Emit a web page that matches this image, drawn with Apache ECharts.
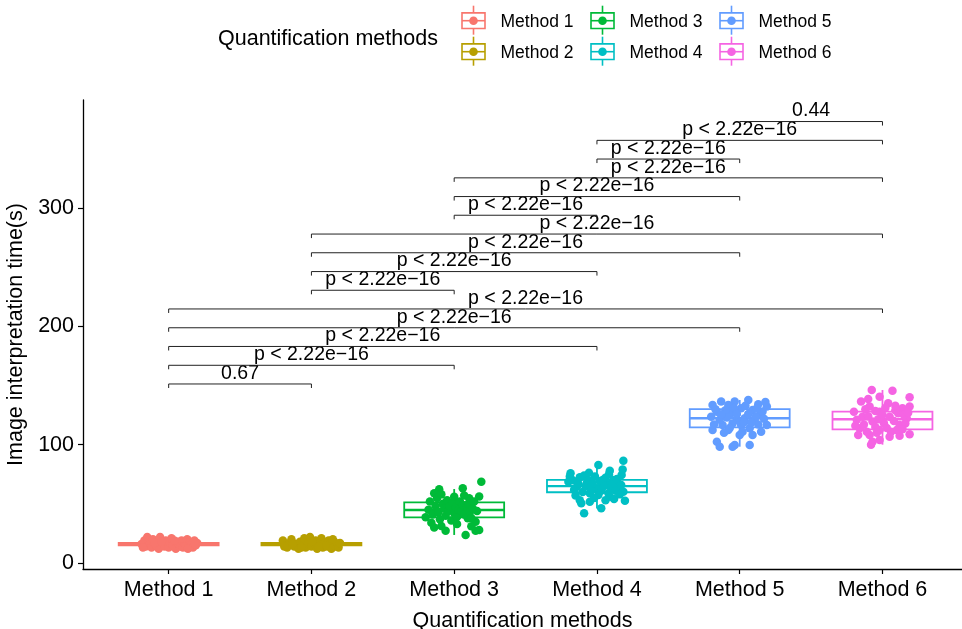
<!DOCTYPE html>
<html><head><meta charset="utf-8">
<script src="https://cdn.jsdelivr.net/npm/echarts@6/dist/echarts.min.js"></script>
<style>html,body{margin:0;padding:0;background:#fff}#c{width:962px;height:629px}</style>
</head><body><div id="c"></div>
<script>
// ---------- data ----------
const categories = ['Method 1','Method 2','Method 3','Method 4','Method 5','Method 6'];
const yTicks = [0, 100, 200, 300];
const xTicks = [1, 2, 3, 4, 5, 6];

// box statistics per method: [lower whisker, Q1, median, Q3, upper whisker]
const boxMethod1 = [12, 15, 16, 17, 22];
const boxMethod2 = [12, 15, 16, 17, 22];
const boxMethod3 = [23.7, 38.6, 44.8, 51.3, 62.5];
const boxMethod4 = [46, 59.8, 65, 70.2, 83];
const boxMethod5 = [98.3, 114.7, 122.3, 130, 137.8];
const boxMethod6 = [100, 113, 121.5, 127.9, 146.2];

// observed values (s) and horizontal jitter (category units)
const method1Values = [16,19,14,22,17,13,20,15,18,12,22,16,14,19,13,17,21,15,12,18,16,14,19,13,17,15,20,14,18,16,13,19,15,17,13,17,19,18,12,16];
const method1Jitter = [-0.19,-0.17,-0.16,-0.15,-0.13,-0.12,-0.11,-0.09,-0.08,-0.07,-0.06,-0.04,-0.03,-0.02,0.0,0.01,0.02,0.03,0.05,0.06,0.07,0.08,0.09,0.1,0.11,0.12,0.13,0.14,0.15,0.16,0.17,0.18,0.19,0.2,-0.18,-0.1,0.04,-0.05,0.135,0.185];
const method2Values = [19,15,13,17,20,14,16,12,18,15,21,13,17,22,14,16,19,12,15,21,13,17,14,19,16,12,18,14,16,13,17,16,13,18,15,20,14,14];
const method2Jitter = [-0.2,-0.18,-0.17,-0.15,-0.14,-0.12,-0.11,-0.09,-0.08,-0.06,-0.05,-0.04,-0.02,-0.01,0.0,0.02,0.03,0.04,0.06,0.07,0.08,0.09,0.11,0.12,0.13,0.14,0.16,0.17,0.18,0.19,0.2,-0.13,-0.07,0.01,0.1,0.15,-0.19,0.05];
const method3Values = [68.7,63.1,62.3,58.9,56.3,54.7,38.6,34,31.3,27.3,23.7,27.3,27.9,34.9,37.8,45,52,41,48,55,43,37,50,46,40,53,44,48,36,51,42,47,39,45,52,44,49,41,47,50,43,38,46,52,44,33,30,31,58,56,57];
const method3Jitter = [0.19,0.06,-0.105,-0.14,0.175,0.105,-0.2,-0.16,-0.09,-0.06,0.08,0.15,0.175,0.15,0.095,-0.18,-0.17,-0.15,-0.13,-0.12,-0.11,-0.1,-0.08,-0.07,-0.06,-0.05,-0.04,-0.03,-0.02,-0.01,0.0,0.01,0.02,0.03,0.04,0.05,0.06,0.07,0.09,0.1,0.11,0.12,0.13,0.14,0.16,0.02,-0.14,0.12,-0.09,0.0,0.07];
const method4Values = [86.5,82.8,75.8,76.3,75,74.4,72.4,73,70.2,68.7,67.9,66.8,64.5,63.1,64.5,60.3,58.9,56.1,52.7,50.5,51.8,46.2,42,57.5,70.2,70,62,67,60,74,65,70,62,67,55,69,61,65,72,59,63,67,54,61,71,58,66,57,53,53,79,73,78];
const method4Jitter = [0.185,0.01,-0.185,-0.056,0.084,0.173,-0.12,-0.014,0.114,-0.2,-0.07,0.07,-0.14,0.0,0.15,0.185,-0.05,0.09,0.196,-0.11,-0.05,0.03,-0.09,0.01,0.04,-0.17,-0.16,-0.13,-0.1,-0.09,-0.08,-0.06,-0.04,-0.03,-0.02,0.02,0.03,0.05,0.06,0.08,0.1,0.11,0.12,0.13,0.14,0.16,0.17,-0.15,0.06,-0.12,0.18,-0.19,0.09];
const method5Values = [137.8,136.4,136.4,133.6,133.6,134.2,132.2,130.8,129.3,127.9,126.5,125.1,123.7,122.3,120.9,120.9,116.7,116.7,116.7,112.4,112.4,113.9,108.2,108.2,102.5,99.7,99.7,98.3,98.3,130,129,131,133,128,130.5,121,123,126,122,118,117,117,119,110,111,123.5,126,136,114,118.5,125.5,111];
const method5Jitter = [0.06,-0.13,-0.035,-0.19,-0.08,0.13,0.19,0.01,0.09,-0.16,-0.06,0.14,-0.2,0.035,-0.02,0.105,0.19,-0.12,0.01,-0.19,-0.08,0.07,0,0.09,-0.16,-0.035,0.07,-0.14,-0.05,-0.17,-0.1,-0.04,0.04,0.16,0.12,-0.14,-0.09,0.06,0.17,-0.05,0.13,-0.18,0.03,-0.11,0.15,0.11,-0.02,0.18,-0.07,0.08,-0.13,0.02];
const method6Values = [146.2,145.6,140.6,140.1,138.6,136.4,135,132.2,132.2,130.8,127.9,127.9,126.5,123.7,123.7,122.3,119.5,118.1,116.7,113.9,112.4,111,108.8,108.2,107.6,108.2,102.5,104,106.8,130,128.5,131,129,125,121,124,121.5,120,118,117,115,114,112.5,111,113,116,127,125,110,133,100];
const method6Jitter = [-0.075,0.07,-0.02,0.19,-0.1,-0.15,0.04,-0.09,0.19,0.14,-0.2,-0.02,0.11,-0.14,0.05,0.17,-0.07,0.01,0.12,-0.16,-0.02,0.06,0.19,-0.09,0.12,-0.17,-0.07,-0.02,0.05,-0.12,-0.05,0.02,0.09,0.15,-0.18,-0.1,-0.03,0.08,0.16,-0.13,-0.05,0.03,0.1,-0.11,0.14,-0.19,0.18,0.0,-0.04,0.09,-0.08];

// significance brackets
const bracketPairs = [[1,2],[1,3],[1,4],[1,5],[1,6],[2,3],[2,4],[2,5],[2,6],[3,4],[3,5],[3,6],[4,5],[4,6],[5,6]];
const bracketY = [151.3,167.1,183,198.8,214.7,230.5,246.3,262.2,278,293.9,309.7,325.5,341.4,357.2,373.1];
const bracketLabels = ['0.67','p < 2.22e\u221216','p < 2.22e\u221216','p < 2.22e\u221216','p < 2.22e\u221216','p < 2.22e\u221216','p < 2.22e\u221216','p < 2.22e\u221216','p < 2.22e\u221216','p < 2.22e\u221216','p < 2.22e\u221216','p < 2.22e\u221216','p < 2.22e\u221216','p < 2.22e\u221216','0.44'];

// ---------- styles ----------
const colors = ['#F8766D','#B79F00','#00BA38','#00BFC4','#619CFF','#F564E3'];
const FONT = '"Liberation Sans", Arial, Helvetica, sans-serif';
const BOX_HALF = 0.35;
const TIP = 3.4;

const boxes = [boxMethod1, boxMethod2, boxMethod3, boxMethod4, boxMethod5, boxMethod6];
const values = [method1Values, method2Values, method3Values, method4Values, method5Values, method6Values];
const jitters = [method1Jitter, method2Jitter, method3Jitter, method4Jitter, method5Jitter, method6Jitter];

function renderBox(params, api) {
  const x = api.value(0);
  const c = colors[params.dataIndex];
  const q1L = api.coord([x - BOX_HALF, api.value(2)]);
  const q3R = api.coord([x + BOX_HALF, api.value(4)]);
  const med = api.coord([x, api.value(3)]);
  const wLo = api.coord([x, api.value(1)]);
  const wHi = api.coord([x, api.value(5)]);
  const lw = 1.8;
  return {
    type: 'group',
    children: [
      { type: 'line', shape: { x1: med[0], y1: wHi[1], x2: med[0], y2: q3R[1] }, style: { stroke: c, lineWidth: lw } },
      { type: 'line', shape: { x1: med[0], y1: q1L[1], x2: med[0], y2: wLo[1] }, style: { stroke: c, lineWidth: lw } },
      { type: 'rect', shape: { x: q1L[0], y: q3R[1], width: q3R[0] - q1L[0], height: q1L[1] - q3R[1] }, style: { fill: '#fff', stroke: c, lineWidth: lw } },
      { type: 'line', shape: { x1: q1L[0], y1: med[1], x2: q3R[0], y2: med[1] }, style: { stroke: c, lineWidth: 2.4 } }
    ]
  };
}

function renderBracket(params, api) {
  const a = api.coord([api.value(0), api.value(2)]);
  const b = api.coord([api.value(1), api.value(2)]);
  const tip = api.size([0, TIP])[1];
  return {
    type: 'group',
    children: [
      { type: 'polyline', shape: { points: [[a[0], a[1] + tip], [a[0], a[1]], [b[0], b[1]], [b[0], b[1] + tip]] },
        style: { stroke: '#222', lineWidth: 1, fill: null } },
      { type: 'text', x: (a[0] + b[0]) / 2, y: a[1] - 0.5,
        style: { text: bracketLabels[params.dataIndex], fill: '#000', fontSize: 19.5, fontFamily: FONT, align: 'center', verticalAlign: 'bottom' } }
    ]
  };
}

const series = [];
series.push({
  type: 'custom', name: 'boxes', renderItem: renderBox, z: 2, silent: true,
  encode: { x: 0, y: [1, 2, 3, 4, 5] },
  data: boxes.map((b, i) => [xTicks[i]].concat(b))
});
categories.forEach((name, i) => {
  series.push({
    type: 'scatter', name: name, z: 3, symbolSize: 8.5,
    itemStyle: { color: colors[i], opacity: 1 },
    data: values[i].map((v, k) => [xTicks[i] + jitters[i][k], v])
  });
});
series.push({
  type: 'custom', name: 'brackets', renderItem: renderBracket, z: 4, silent: true,
  encode: { x: [0, 1], y: 2 },
  data: bracketPairs.map((p, i) => [p[0], p[1], bracketY[i]])
});

// legend drawn as graphic (ggplot-style boxplot keys)
const legendChildren = [{
  type: 'text', x: 218, y: 39,
  style: { text: 'Quantification methods', fill: '#000', fontSize: 21.5, fontFamily: FONT, verticalAlign: 'middle' }
}];
categories.forEach((name, i) => {
  const col = Math.floor(i / 2), row = i % 2;
  const cx = 473.5 + col * 129, cy = 20.7 + row * 31;
  const c = colors[i];
  legendChildren.push(
    { type: 'line', shape: { x1: cx, y1: cy - 15, x2: cx, y2: cy + 14 }, style: { stroke: c, lineWidth: 1.6 } },
    { type: 'rect', shape: { x: cx - 11.5, y: cy - 7.8, width: 23, height: 15.6 }, style: { fill: '#fff', stroke: c, lineWidth: 1.6 } },
    { type: 'line', shape: { x1: cx - 11.5, y1: cy, x2: cx + 11.5, y2: cy }, style: { stroke: c, lineWidth: 1.6 } },
    { type: 'circle', shape: { cx: cx, cy: cy, r: 4.3 }, style: { fill: c } },
    { type: 'text', x: cx + 27, y: cy + 1, style: { text: name, fill: '#000', fontSize: 17.5, fontFamily: FONT, verticalAlign: 'middle' } }
  );
});

const chart = echarts.init(document.getElementById('c'), null, { renderer: 'canvas' });
chart.setOption({
  animation: false,
  backgroundColor: '#fff',
  textStyle: { fontFamily: FONT },
  grid: { left: 83, right: 0, top: 100, bottom: 60, containLabel: false, outerBoundsMode: 'none' },
  xAxis: {
    type: 'value', min: 0.4, max: 6.557,
    name: 'Quantification methods', nameLocation: 'middle', nameGap: 41,
    nameTextStyle: { fontSize: 21.5, color: '#000', fontFamily: FONT },
    axisLine: { show: true, onZero: false, lineStyle: { color: '#000', width: 1.3 } },
    axisTick: { show: true, length: 5, lineStyle: { color: '#000', width: 1.2 }, customValues: xTicks },
    axisLabel: { customValues: xTicks, margin: 10, fontSize: 21.5, color: '#000', fontFamily: FONT,
      formatter: v => categories[Math.round(v) - 1] },
    splitLine: { show: false }
  },
  yAxis: {
    type: 'value', min: -5.07, max: 391.3,
    name: 'Image interpretation time(s)', nameLocation: 'middle', nameGap: 42,
    nameTextStyle: { fontSize: 21.5, color: '#000', fontFamily: FONT },
    axisLine: { show: true, onZero: false, lineStyle: { color: '#000', width: 1.3 } },
    axisTick: { show: true, length: 5, lineStyle: { color: '#000', width: 1.2 }, customValues: yTicks },
    axisLabel: { customValues: yTicks, margin: 9, fontSize: 21.5, color: '#000', fontFamily: FONT },
    splitLine: { show: false }
  },
  graphic: legendChildren,
  series: series
});
</script>
</body></html>
